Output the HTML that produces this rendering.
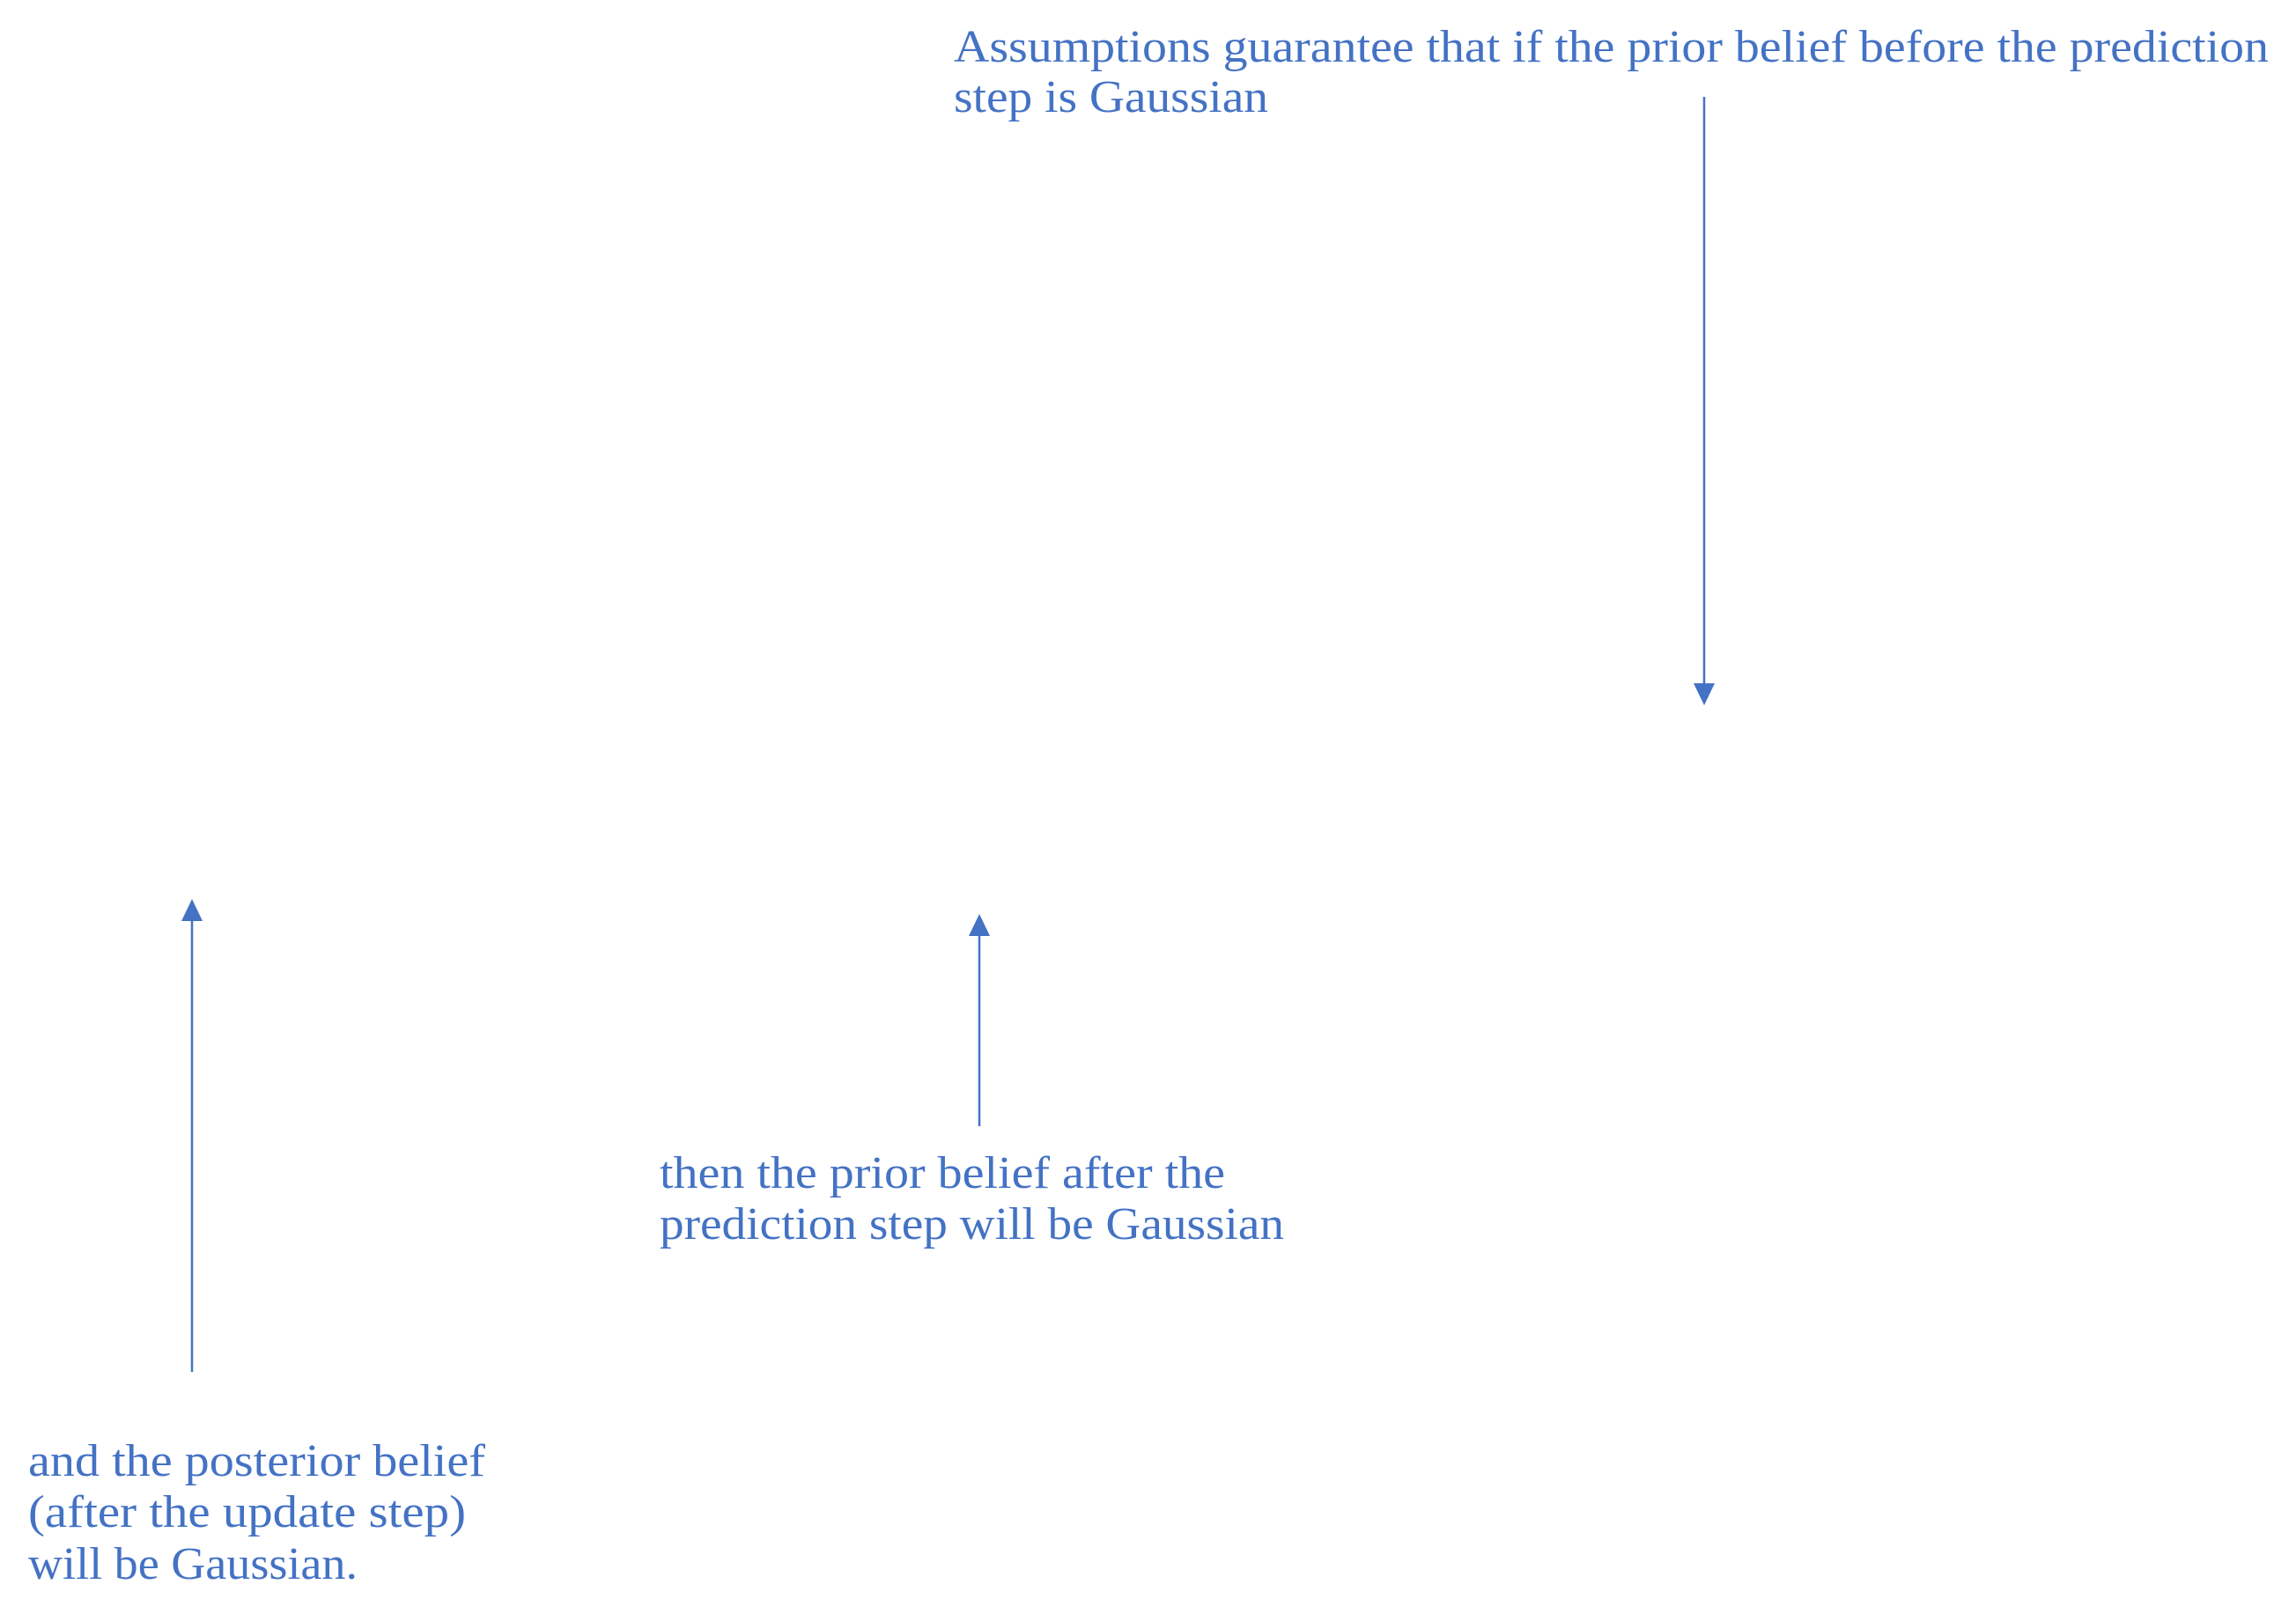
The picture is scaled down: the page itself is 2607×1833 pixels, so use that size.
<!DOCTYPE html>
<html><head><meta charset="utf-8"><style>
html,body{margin:0;padding:0;background:#fff;}
svg{display:block;}
text{font-family:"Liberation Serif",serif;font-size:52px;fill:#4472C4;}
</style></head><body>
<svg width="2607" height="1833" viewBox="0 0 2607 1833" xmlns="http://www.w3.org/2000/svg">
<g stroke="#4472C4" stroke-width="2.5" fill="none">
<line x1="1935" y1="110" x2="1935" y2="780"/>
<line x1="218" y1="1558" x2="218" y2="1040"/>
<line x1="1112" y1="1279" x2="1112" y2="1058"/>
</g>
<g fill="#4472C4">
<polygon points="1923,776 1947,776 1935,801"/>
<polygon points="206,1046 230,1046 218,1021"/>
<polygon points="1100,1063 1124,1063 1112,1038"/>
</g>
<text x="1083" y="70" textLength="1493" lengthAdjust="spacingAndGlyphs">Assumptions guarantee that if the prior belief before the prediction</text>
<text x="1083" y="127" textLength="357" lengthAdjust="spacingAndGlyphs">step is Gaussian</text>
<text x="749" y="1349" textLength="642" lengthAdjust="spacingAndGlyphs">then the prior belief after the</text>
<text x="749" y="1407" textLength="709" lengthAdjust="spacingAndGlyphs">prediction step will be Gaussian</text>
<text x="32" y="1676" textLength="519" lengthAdjust="spacingAndGlyphs">and the posterior belief</text>
<text x="32" y="1734" textLength="497" lengthAdjust="spacingAndGlyphs">(after the update step)</text>
<text x="32" y="1793" textLength="374" lengthAdjust="spacingAndGlyphs">will be Gaussian.</text>
</svg>
</body></html>
